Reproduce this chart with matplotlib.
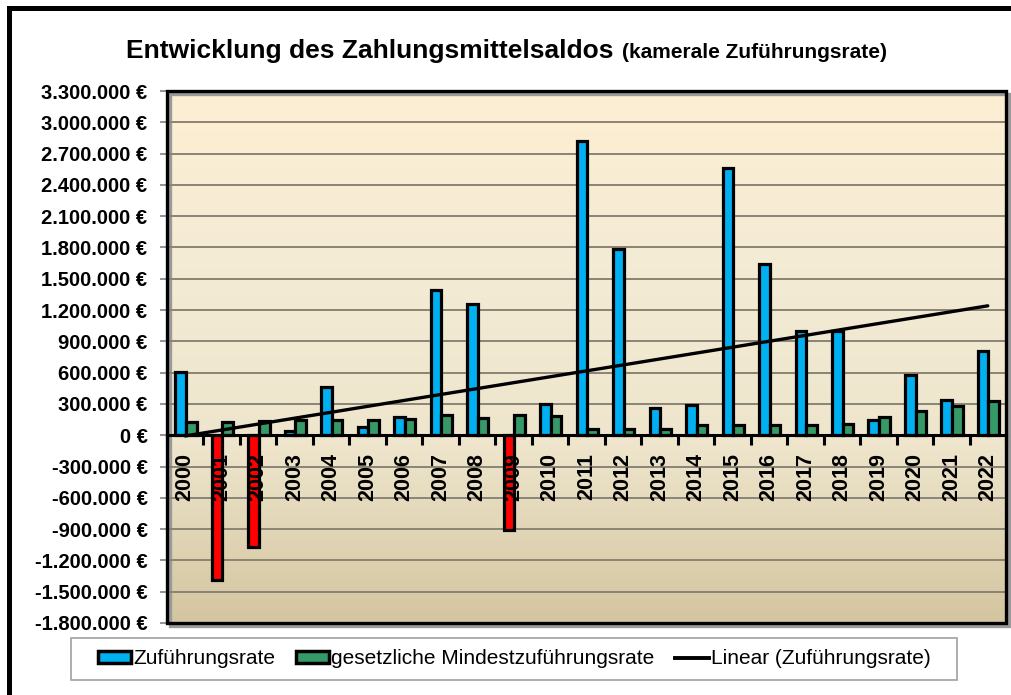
import numpy as np
import matplotlib
matplotlib.use('Agg')
import matplotlib.pyplot as plt
import matplotlib.patches as mpatches
import matplotlib.transforms as mtransforms
from matplotlib.lines import Line2D
from matplotlib.ticker import FuncFormatter, MultipleLocator
from matplotlib.colors import LinearSegmentedColormap

# 1. Data
years = ['2000', '2001', '2002', '2003', '2004', '2005', '2006', '2007',
         '2008', '2009', '2010', '2011', '2012', '2013', '2014', '2015',
         '2016', '2017', '2018', '2019', '2020', '2021', '2022']
zufuehrung = [605000, -1385000, -1067000, 40000, 461000, 79000, 175000, 1392000,
              1258000, -907000, 303000, 2824000, 1789000, 261000, 287000, 2563000,
              1646000, 997000, 995000, 150000, 573000, 341000, 812000]
mindest = [127000, 125000, 137000, 150000, 142000, 150000, 160000, 191000,
           169000, 191000, 188000, 64000, 64000, 64000, 102000, 102000,
           102000, 102000, 112000, 175000, 229000, 277000, 325000]

title = 'Entwicklung des Zahlungsmittelsaldos'
subtitle = '(kamerale Zuführungsrate)'
labels = ['Zuführungsrate', 'gesetzliche Mindestzuführungsrate', 'Linear (Zuführungsrate)']

ymin, ymax, ystep = -1800000, 3300000, 300000

c_blue = '#00B0F0'
c_red = '#FF0000'
c_green = '#369A68'

plt.rcParams['font.family'] = ['Liberation Sans', 'DejaVu Sans']

# 2. Figure
fig = plt.figure(figsize=(10.11, 6.95), dpi=100)
ax = fig.add_axes([167/1011, 72/695, 839/1011, 532/695])

x = np.arange(len(years))
ax.set_xlim(-0.5, len(years) - 0.5)
ax.set_ylim(ymin, ymax)

## gradient background
cmap = LinearSegmentedColormap.from_list('bg', ['#D3C59F', '#EEE5CC', '#F4EBD5', '#FDEFD2'])
grad = np.linspace(0, 1, 256).reshape(-1, 1)
ax.imshow(grad, extent=[-0.5, len(years) - 0.5, ymin, ymax], origin='lower',
          aspect='auto', cmap=cmap, zorder=0)

## grid (drawn by hand so that the axis labels can sit above the bars)
ax.yaxis.set_major_locator(MultipleLocator(ystep))
yt = np.arange(ymin, ymax + 1, ystep)
ax.hlines(yt, -0.5, len(years) - 0.5, color='#8A8474', lw=1.4, zorder=1)

## bars
w = 0.29
bcol = [c_red if v < 0 else c_blue for v in zufuehrung]
ax.bar(x - w/2 + 0.02, zufuehrung, w, color=bcol, edgecolor='black', lw=2.3, zorder=3)
ax.bar(x + w/2 + 0.02, mindest, w, color=c_green, edgecolor='black', lw=2.3, zorder=3)

## linear trend (like Excel)
k, d = np.polyfit(x, zufuehrung, 1)
ax.plot(x, k * x + d, color='black', lw=2.4, zorder=4, solid_capstyle='round')

## axes / spines
for s in ['top', 'right', 'left']:
    ax.spines[s].set_visible(False)
ax.spines['bottom'].set_position(('data', 0))
ax.spines['bottom'].set_linewidth(2.2)
ax.spines['bottom'].set_zorder(5)
ax.xaxis.set_zorder(7)

frame = mpatches.Rectangle((0, 0), 1, 1, transform=ax.transAxes, fill=False,
                           edgecolor='black', lw=2.4, clip_on=False, zorder=6)
ax.add_patch(frame)
shadow_tr = ax.transAxes + mtransforms.ScaledTranslation(3/100, -3/100, fig.dpi_scale_trans)
shadow = mpatches.Rectangle((0, 0), 1, 1, transform=shadow_tr, fill=False,
                            edgecolor='#9A9A9A', lw=2.4, clip_on=False, zorder=0.5)
ax.add_patch(shadow)

ax.set_xticks(np.arange(-0.5, len(years), 1))
ax.set_xticklabels([])
ax.set_xticks(x, minor=True)
ax.set_xticklabels(years, minor=True, rotation=90, fontsize=15.5, fontweight='bold')
ax.tick_params(axis='x', which='major', direction='out', length=7, width=2.2, color='black')
ax.tick_params(axis='x', which='minor', length=0, pad=13)

def euro(v, pos):
    return '{:,.0f}'.format(v).replace(',', '.') + ' €'
ax.yaxis.set_major_formatter(FuncFormatter(euro))
ax.tick_params(axis='y', direction='out', length=5, width=1.2, color='#808080', pad=9)
for t in ax.get_yticklabels():
    t.set_fontsize(14.5)
    t.set_fontweight('bold')

# 3. Title
fig.text(614/1011, 1 - 58/695, title, ha='right', va='baseline',
         fontsize=19, fontweight='bold')
fig.text(622/1011, 1 - 58/695, subtitle, ha='left', va='baseline',
         fontsize=15, fontweight='bold')

# 4. Legend (box drawn separately, entries centred in it)
hnd = [mpatches.Patch(facecolor=c_blue, edgecolor='black', lw=2.5),
       mpatches.Patch(facecolor=c_green, edgecolor='black', lw=2.5),
       Line2D([], [], color='black', lw=2.8)]
fig.patches.append(mpatches.Rectangle((71/1011, 15/695), 886/1011, 42/695,
                                      transform=fig.transFigure, facecolor='white',
                                      edgecolor='#A0A0A0', lw=1.2))
leg = fig.legend(hnd, labels, loc='center', ncol=3,
                 bbox_to_anchor=(514/1011, 36/695),
                 fontsize=15, frameon=False,
                 handlelength=1.6, handleheight=0.55, handletextpad=0.1,
                 columnspacing=1.0, borderaxespad=0)

# outer frame (only left and top edge visible)
fy = 1 - 8.5/695
fig.patches.append(mpatches.Rectangle((8.5/1011, -0.2), 1.2, fy + 0.2,
                                      transform=fig.transFigure, fill=False,
                                      edgecolor='black', lw=3.6))

fig.savefig('out.png', dpi=100)
